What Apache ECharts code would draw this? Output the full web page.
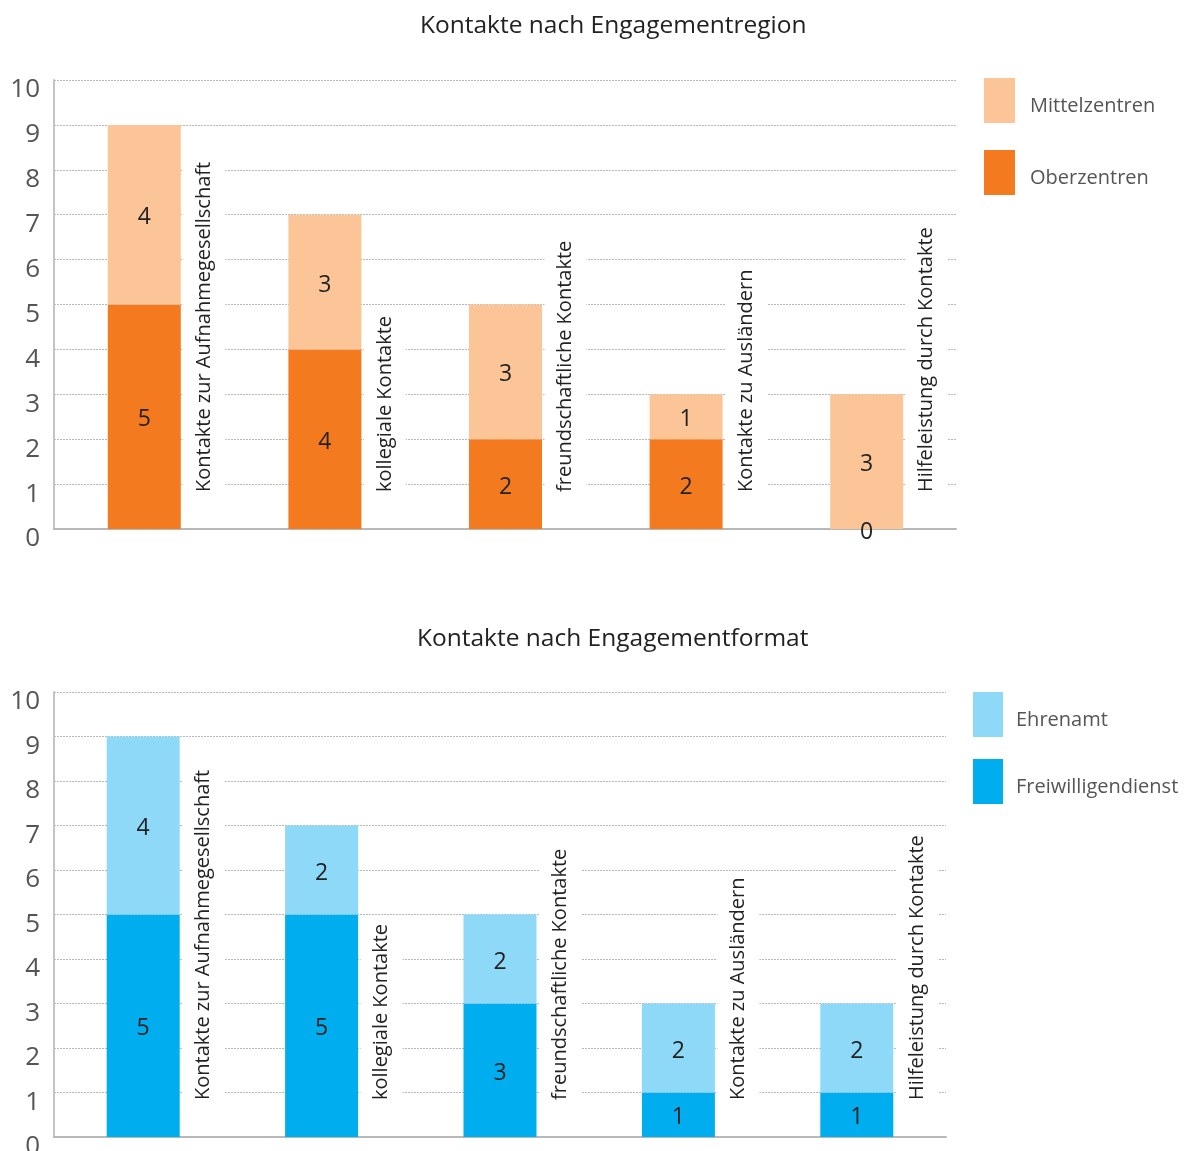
<!DOCTYPE html>
<html>
<head>
<meta charset="utf-8">
<script src="https://cdn.jsdelivr.net/npm/echarts@6/dist/echarts.min.js"></script>
<style>
html,body{margin:0;padding:0;background:#fff;}
#chart{width:1191px;height:1151px;}
</style>
</head>
<body>
<div id="chart"></div>
<script>
const categories = ['Kontakte zur Aufnahmegesellschaft','kollegiale Kontakte','freundschaftliche Kontakte','Kontakte zu Ausländern','Hilfeleistung durch Kontakte'];
const yTicks = [0,1,2,3,4,5,6,7,8,9,10];
const titleTop = 'Kontakte nach Engagementregion';
const titleBottom = 'Kontakte nach Engagementformat';
const oberzentren = [5,4,2,2,0];
const mittelzentren = [4,3,3,1,3];
const freiwilligendienst = [5,5,3,1,1];
const ehrenamt = [4,2,2,2,2];

const FONT = 'Open Sans';
const chart = echarts.init(document.getElementById('chart'), null, {renderer:'canvas'});

function yAxis(gi){
  return {
    type:'value', gridIndex:gi, min:yTicks[0], max:yTicks[yTicks.length-1], interval:1,
    axisLine:{show:true, lineStyle:{color:'#c4c4c8', width:2}},
    axisTick:{show:false},
    splitLine:{show:true, lineStyle:{color:'#b8b8b8', type:[2,1], width:1}},
    axisLabel:{color:'#555', fontSize:26, fontFamily:FONT, margin:14, verticalAlign:'top', lineHeight:20}
  };
}
function xAxis(gi){
  return {
    type:'category', gridIndex:gi, data:categories,
    axisLine:{show:true, lineStyle:{color:'#b8b8b8', width:2, type:[2,1]}},
    axisTick:{show:false}, axisLabel:{show:false}, splitLine:{show:false}
  };
}
function barLabel(){
  return {show:true, position:'inside', offset:[0,3], color:'#222', fontSize:23, fontFamily:FONT};
}
function catLabels(ai){
  return {
    type:'custom', xAxisIndex:ai, yAxisIndex:ai, z:10, silent:true,
    data: categories.map((c,i)=>[i,0]),
    renderItem:function(params, api){
      const p = api.coord([api.value(0), 0]);
      return {
        type:'text', x:p[0]+60, y:p[1]-25, rotation:Math.PI/2,
        style:{text:categories[api.value(0)], fontSize:20, fontFamily:FONT, fill:'#222',
               align:'left', verticalAlign:'middle', backgroundColor:'#fff', padding:[11,6,11,12]}
      };
    }
  };
}
function legendText(left){
  return {fontSize:20, color:'#555', fontFamily:FONT, padding:[0,0,0,left],
          rich:{a:{fontSize:20, color:'#555', fontFamily:FONT, lineHeight:22, padding:[12,0,0,0]}}};
}

const option = {
  animation:false,
  backgroundColor:'#fff',
  title:[
    {text:titleTop, left:420, top:14, padding:0, textStyle:{fontSize:24.5, fontWeight:'normal', color:'#222', fontFamily:FONT}},
    {text:titleBottom, left:417, top:627, padding:0, textStyle:{fontSize:24.5, fontWeight:'normal', color:'#222', fontFamily:FONT}}
  ],
  legend:[
    {orient:'vertical', left:984, top:78, padding:0, itemWidth:31, itemHeight:45, itemGap:27, icon:'rect',
     formatter:'{a|{name}}', data:['Mittelzentren','Oberzentren'], textStyle:legendText(10)},
    {orient:'vertical', left:973, top:692, padding:0, itemWidth:30, itemHeight:45, itemGap:22, icon:'rect',
     formatter:'{a|{name}}', data:['Ehrenamt','Freiwilligendienst'], textStyle:legendText(8)}
  ],
  grid:[
    {left:54, top:80, width:903, height:449, outerBoundsMode:'none', containLabel:false},
    {left:54, top:692, width:892, height:445, outerBoundsMode:'none', containLabel:false}
  ],
  xAxis:[xAxis(0), xAxis(1)],
  yAxis:[yAxis(0), yAxis(1)],
  series:[
    {name:'Oberzentren', type:'bar', stack:'a', xAxisIndex:0, yAxisIndex:0, barWidth:73, data:oberzentren, itemStyle:{color:'#F47A20'}, label:barLabel()},
    {name:'Mittelzentren', type:'bar', stack:'a', xAxisIndex:0, yAxisIndex:0, barWidth:73, data:mittelzentren, itemStyle:{color:'#FBC597'}, label:barLabel()},
    {name:'Freiwilligendienst', type:'bar', stack:'b', xAxisIndex:1, yAxisIndex:1, barWidth:73, data:freiwilligendienst, itemStyle:{color:'#00ADEE'}, label:barLabel()},
    {name:'Ehrenamt', type:'bar', stack:'b', xAxisIndex:1, yAxisIndex:1, barWidth:73, data:ehrenamt, itemStyle:{color:'#8ED8F8'}, label:barLabel()},
    catLabels(0),
    catLabels(1)
  ]
};
chart.setOption(option);
</script>
</body>
</html>
